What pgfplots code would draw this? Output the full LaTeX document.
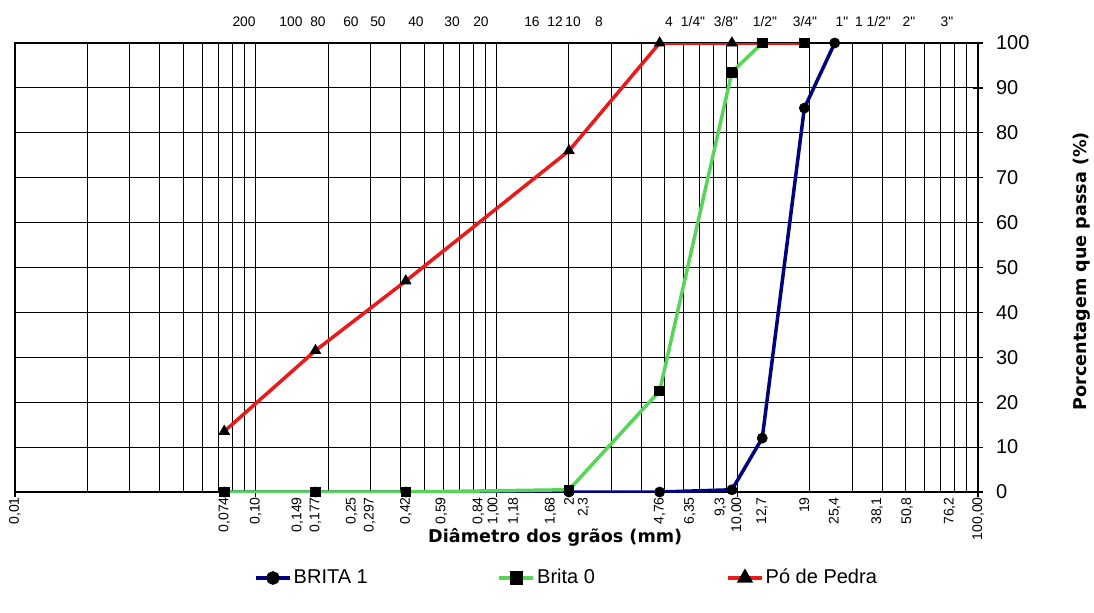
\documentclass[border=0pt]{standalone}
\usepackage{fontspec}
\setmainfont{Liberation Sans}
\newfontfamily\titlefont{DejaVu Sans}
\usepackage{pgfplots}
\pgfplotsset{compat=1.18}
\usetikzlibrary{calc}
\definecolor{cnavy}{RGB}{0,0,128}
\definecolor{cgreen}{RGB}{85,215,85}
\definecolor{cred}{RGB}{235,25,25}
\newcommand{\q}{\textquotedbl}
\begin{document}
\begin{tikzpicture}
% bottom labels
\begin{axis}[scale only axis, width=481.5pt, height=224.5pt, xmode=log, xmin=0.01, xmax=100, ymin=0, ymax=100,
 axis line style={draw=none}, ytick=\empty, xtick pos=bottom, major tick length=0pt, minor tick length=0pt,
 xtick={0.01,0.074,0.10,0.149,0.177,0.25,0.297,0.42,0.59,0.84,0.97,1.18,1.68,2,2.3,4.76,6.35,8.5,10,12.7,19,25.4,38.1,50.8,76.2,100},
 xticklabels={{0,01},{0,074},{0,10},{0,149},{0,177},{0,25},{0,297},{0,42},{0,59},{0,84},{1,00},{1,18},{1,68},{2},{2,3},{4,76},{6,35},{9,3},{10,00},{12,7},{19},{25,4},{38,1},{50,8},{76,2},{100,00}},
 xticklabel style={rotate=90, anchor=east, font=\fontsize{7}{8}\selectfont, inner xsep=2.5pt, inner ysep=0pt}]
\end{axis}
% top labels
\begin{axis}[scale only axis, width=481.5pt, height=224.5pt, xmode=log, xmin=0.01, xmax=100, ymin=0, ymax=100,
 axis line style={draw=none}, ytick=\empty, xtick pos=top, xticklabel pos=top, major tick length=0pt, minor tick length=0pt,
 xtick={0.0894,0.140,0.1814,0.2486,0.3219,0.463,0.6535,0.862,1.404,1.75,2.08,2.666,5.206,6.552,8.98,13.04,19.12,27.24,36.64,51.69,74.32},
 xticklabels={200,100,80,60,50,40,30,20,16,12,10,8,4,{1/4\q},{3/8\q},{1/2\q},{3/4\q},{1\q},{1 1/2\q},{2\q},{3\q}},
 xticklabel style={font=\fontsize{6.9}{8}\selectfont, inner sep=0pt, anchor=south, yshift=8pt}]
\end{axis}
% main axis
\begin{axis}[scale only axis, width=481.5pt, height=224.5pt, xmode=log, xmin=0.01, xmax=100, ymin=0, ymax=100,
 xtick={0.01,0.1,1,10,100}, xticklabels={}, xtick pos=bottom,
 ytick={0,10,...,100}, ytick pos=right, yticklabel pos=right,
 grid=both, major grid style={black, line width=0.5pt}, minor grid style={black, line width=0.5pt},
 axis line style={black, line width=0.6pt},
 tick align=center, major tick length=5pt, minor tick length=0pt,
 every tick/.style={black, line width=0.6pt},
 /pgf/number format/assume math mode=true,
 yticklabel style={font=\fontsize{10}{12}\selectfont, xshift=3pt},
 legend columns=3,
 legend style={at={(0.248,-0.1915)}, anchor=west, draw=none, fill=none, inner sep=0pt,
   font=\fontsize{10}{12}\selectfont, nodes={inner sep=1pt},
   /tikz/every even column/.append style={column sep=0pt}},
 legend image code/.code={\draw[mark repeat=2,mark phase=2] plot coordinates {(0pt,0pt) (8.5pt,0pt) (17pt,0pt)};}
]
\coordinate (bl) at (rel axis cs:0,0);
\coordinate (tr) at (rel axis cs:1,1);
\coordinate (xl) at (rel axis cs:0.561,-0.100);
\coordinate (yl) at (rel axis cs:1,0.492);
\addplot[cnavy, line width=1.75pt, forget plot] coordinates {(0.074,0)(0.177,0)(0.42,0)(2,0)(4.76,0)(9.5,0.5)(12.7,12)(19,85.5)(25.4,100)};
\addplot[cgreen, line width=1.75pt, forget plot] coordinates {(0.074,0)(0.177,0)(0.42,0)(2,0.5)(4.76,22.5)(9.5,93.5)(12.7,100)(19,100)};
\addplot[cred, line width=1.75pt, forget plot] coordinates {(0.074,13.5)(0.177,31.5)(0.42,47)(2,76)(4.76,100)(9.5,100)(12.7,100)(19,100)};
\addplot[only marks, mark=*, mark size=2.5pt, black, forget plot] coordinates {(0.074,0)(0.177,0)(0.42,0)(2,0)(4.76,0)(9.5,0.5)(12.7,12)(19,85.5)(25.4,100)};
\addplot[only marks, mark=square*, mark size=2.4pt, black, forget plot] coordinates {(0.074,0)(0.177,0)(0.42,0)(2,0.5)(4.76,22.5)(9.5,93.5)(12.7,100)(19,100)};
\addplot[only marks, mark=triangle*, mark size=3pt, black, forget plot] coordinates {(0.074,13.5)(0.177,31.5)(0.42,47)(2,76)(4.76,100)(9.5,100)};
\addlegendimage{cnavy, line width=1.75pt, mark=*, mark size=2.5pt, mark options={black, fill=black, solid}}
\addlegendentry{\makebox[101pt][l]{BRITA 1}}
\addlegendimage{cgreen, line width=1.75pt, mark=square*, mark size=2.4pt, mark options={black, fill=black, solid}}
\addlegendentry{\makebox[93.5pt][l]{Brita 0}}
\addlegendimage{cred, line width=1.75pt, mark=triangle*, mark size=3pt, mark options={black, fill=black, solid}}
\addlegendentry{Pó de Pedra}
\end{axis}
\node[font=\titlefont\bfseries\fontsize{8.8}{10}\selectfont] at (xl) {Diâmetro dos grãos (mm)};
\node[font=\titlefont\bfseries\fontsize{8.8}{10}\selectfont, rotate=90] at ($(yl)+(52pt,0)$) {Porcentagem que passa (\%)};
\pgfresetboundingbox
\path ($(bl)+(-7.5pt,-60pt)$) rectangle ($(tr)+(58pt,21.5pt)$);
\end{tikzpicture}
\end{document}
